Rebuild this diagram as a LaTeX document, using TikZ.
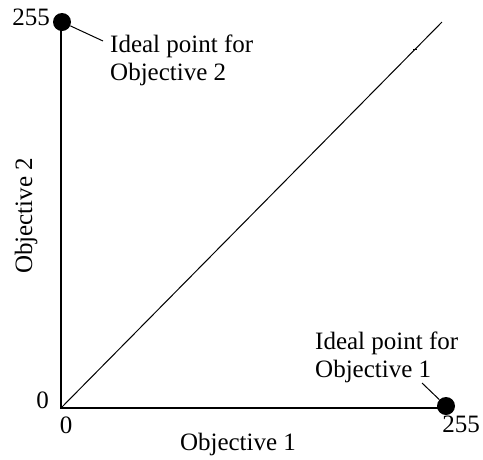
\documentclass[tikz,border=0pt]{standalone}
\usepackage{fontspec}
\setmainfont{Liberation Serif}
\begin{document}
\begin{tikzpicture}[x=1pt,y=-1pt,
  axis/.style={line width=2.2pt},
  thin/.style={line width=1pt},
  dot/.style={circle,fill=black,inner sep=0pt,minimum size=18pt},
  lbl/.style={font=\fontsize{25}{28}\selectfont,inner sep=0pt},
  txt/.style={font=\fontsize{25}{28}\selectfont,inner sep=0pt,align=left}]
\useasboundingbox (0,0) rectangle (483,459);
\coordinate (o) at (61,408);
\coordinate (ytop) at (61,22);
\coordinate (xend) at (447,408);
\coordinate (dend) at (442,22);
\draw[thin] (o) -- (dend);
\draw[thin] (413,49) -- (417,49);
\draw[axis] (ytop) -- (o) -- (xend);
\node[dot] (p2) at (62,22) {};
\node[dot] (p1) at (446,406) {};
\node[lbl,anchor=base east] (l255y) at (50,25) {255};
\node[lbl,anchor=base east] (l0y) at (49,408) {0};
\node[lbl,anchor=base] (l0x) at (66,433) {0};
\node[lbl,anchor=base] (l255x) at (461,432) {255};
\node[lbl,anchor=base] (xl) at (238,450) {Objective 1};
\node[lbl,rotate=90] (yl) at (26,216) {Objective 2};
\node[txt,anchor=base west] (t2) at (110,80) {Ideal point for\\Objective 2};
\node[txt,anchor=base west] (t1) at (315,377) {Ideal point for\\Objective 1};
\coordinate (c2) at (103,41);
\coordinate (c1) at (422,383);
\draw[thin] (p2) -- (c2);
\draw[thin] (c1) -- (p1);
\end{tikzpicture}
\end{document}
